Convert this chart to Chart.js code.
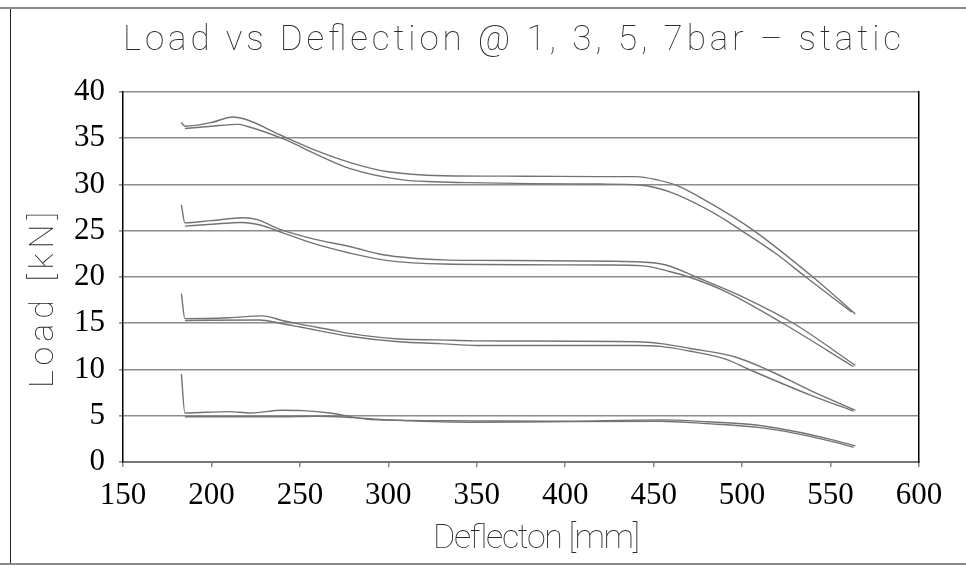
<!DOCTYPE html>
<html>
<head>
<meta charset="utf-8">
<script src="https://cdn.jsdelivr.net/npm/chart.js@4.4.1/dist/chart.umd.min.js"></script>
<style>
  html, body { margin: 0; padding: 0; background: #fff; }
  #wrap { position: relative; width: 966px; height: 573px; }
  #c { position: absolute; left: 0; top: 0; }
  #ov { position: absolute; left: 0; top: 0; pointer-events: none; }
  .t { font-family: "Roboto", "DejaVu Sans", sans-serif; font-weight: 100; fill: #2a2a2a; }
</style>
</head>
<body>
<div id="wrap">
  <canvas id="c" width="966" height="573"></canvas>
  <svg id="ov" width="966" height="573" xmlns="http://www.w3.org/2000/svg">
    <line x1="0" y1="8" x2="966" y2="8" stroke="#8a8a8a" stroke-width="2"/>
    <line x1="0" y1="564" x2="966" y2="564" stroke="#8a8a8a" stroke-width="2"/>
    <line x1="10.5" y1="9" x2="10.5" y2="563" stroke="#222" stroke-width="1"/>
    <text class="t" x="123" y="50" font-size="35" textLength="778" lengthAdjust="spacing">Load vs Deflection @ 1, 3, 5, 7bar – static</text>
    <text class="t" x="433" y="548" font-size="34" textLength="207" lengthAdjust="spacing">Deflecton [mm]</text>
    <text class="t" transform="translate(53,388) rotate(-90)" x="0" y="0" font-size="34" textLength="176" lengthAdjust="spacing">Load [kN]</text>
  </svg>
</div>
<script>
// Deflection [mm] / Load [kN], two traces per pressure
const bar7UpperDefl = [183, 185, 200, 212, 220, 239, 260, 278, 299, 331, 376, 420, 440, 452, 463, 480, 506, 540, 564];
const bar7UpperLoad = [36.7, 36.3, 36.7, 37.3, 37.0, 35.35, 33.6, 32.4, 31.4, 30.95, 30.9, 30.85, 30.85, 30.5, 29.9, 28.2, 25.1, 20.0, 16.0];
const bar7LowerDefl = [185, 200, 215, 220, 241, 260, 278, 308, 327, 346, 380, 420, 442, 459, 486, 499, 520, 536, 562];
const bar7LowerLoad = [36.05, 36.3, 36.5, 36.3, 34.9, 33.2, 31.75, 30.5, 30.3, 30.2, 30.1, 30.05, 29.95, 29.2, 26.7, 25.1, 22.4, 20.0, 16.2];

const bar5UpperDefl = [183, 185, 200, 218, 226, 238, 258, 278, 297, 331, 350, 440, 457, 474, 502, 529, 564];
const bar5UpperLoad = [27.8, 25.85, 26.1, 26.4, 26.2, 25.2, 24.1, 23.3, 22.4, 21.85, 21.8, 21.65, 21.3, 20.0, 17.7, 15.0, 10.45];
const bar5LowerDefl = [185, 200, 217, 228, 240, 258, 278, 299, 331, 423, 444, 459, 470, 491, 523, 563];
const bar5LowerLoad = [25.5, 25.7, 25.9, 25.6, 24.8, 23.6, 22.6, 21.8, 21.4, 21.3, 21.2, 20.6, 20.0, 18.4, 15.0, 10.3];

const bar3UpperDefl = [183, 185, 210, 229, 240, 250, 267, 278, 306, 329, 348, 440, 454, 470, 497, 514, 539, 564];
const bar3UpperLoad = [18.2, 15.5, 15.6, 15.8, 15.3, 14.9, 14.3, 13.9, 13.3, 13.2, 13.1, 13.0, 12.8, 12.3, 11.3, 10.0, 7.7, 5.6];
const bar3LowerDefl = [185, 227, 240, 250, 278, 306, 329, 350, 440, 454, 470, 491, 504, 539, 563];
const bar3LowerLoad = [15.3, 15.35, 14.95, 14.6, 13.6, 13.0, 12.8, 12.6, 12.6, 12.5, 12.0, 11.1, 10.0, 7.2, 5.5];

const bar1UpperDefl = [183, 185, 210, 222, 240, 252, 267, 290, 346, 390, 454, 480, 510, 530, 550, 564];
const bar1UpperLoad = [9.5, 5.3, 5.45, 5.3, 5.6, 5.55, 5.3, 4.6, 4.45, 4.4, 4.55, 4.35, 3.95, 3.3, 2.45, 1.75];
const bar1LowerDefl = [185, 239, 260, 280, 300, 346, 390, 454, 480, 510, 530, 550, 563];
const bar1LowerLoad = [4.9, 4.9, 4.95, 4.8, 4.55, 4.3, 4.35, 4.4, 4.15, 3.72, 3.1, 2.25, 1.6];

const xTicks = [150, 200, 250, 300, 350, 400, 450, 500, 550, 600];
const yTicks = [0, 5, 10, 15, 20, 25, 30, 35, 40];

const traces = [
  ['7 bar up', bar7UpperDefl, bar7UpperLoad],
  ['7 bar low', bar7LowerDefl, bar7LowerLoad],
  ['5 bar up', bar5UpperDefl, bar5UpperLoad],
  ['5 bar low', bar5LowerDefl, bar5LowerLoad],
  ['3 bar up', bar3UpperDefl, bar3UpperLoad],
  ['3 bar low', bar3LowerDefl, bar3LowerLoad],
  ['1 bar up', bar1UpperDefl, bar1UpperLoad],
  ['1 bar low', bar1LowerDefl, bar1LowerLoad]
];

const datasets = traces.map(([label, xs, ys]) => ({
  label,
  data: xs.map((x, i) => ({ x, y: ys[i] })),
  borderColor: '#737373',
  borderWidth: 1.4,
  pointRadius: 0,
  cubicInterpolationMode: 'monotone',
  fill: false,
  xAxisID: 'x',
  yAxisID: 'y'
}));

const tickFont = { family: '"Liberation Serif", "Times New Roman", serif', size: 31 };

new Chart(document.getElementById('c'), {
  type: 'line',
  data: { datasets },
  options: {
    responsive: false,
    devicePixelRatio: 1,
    animation: false,
    layout: { padding: { left: 0, right: 47, top: 92, bottom: 0 } },
    plugins: { legend: { display: false }, tooltip: { enabled: false }, title: { display: false } },
    scales: {
      x: {
        type: 'linear', position: 'bottom', min: 150, max: 600,
        afterBuildTicks: s => { s.ticks = xTicks.map(v => ({ value: v })); },
        ticks: { font: tickFont, color: '#000', padding: 10, maxRotation: 0, autoSkip: false },
        grid: { drawOnChartArea: false, drawTicks: true, tickLength: 5, color: '#888', lineWidth: 1.5 },
        border: { display: true, color: '#777', width: 2 },
        afterFit: s => { s.height = 111; }
      },
      y: {
        type: 'linear', position: 'left', min: 0, max: 40,
        afterBuildTicks: s => { s.ticks = yTicks.map(v => ({ value: v })); },
        ticks: { font: tickFont, color: '#000', padding: 14 },
        grid: { color: '#8c8c8c', lineWidth: 1.6, tickLength: 4, drawTicks: true },
        border: { display: true, color: '#000', width: 1.5 },
        afterFit: s => { s.width = 123; }
      },
      y2: {
        type: 'linear', position: 'right', min: 0, max: 40,
        ticks: { display: false },
        grid: { drawOnChartArea: false, drawTicks: false },
        border: { display: true, color: '#000', width: 1.5 },
        afterFit: s => { s.width = 0; }
      }
    }
  }
});
</script>
</body>
</html>
